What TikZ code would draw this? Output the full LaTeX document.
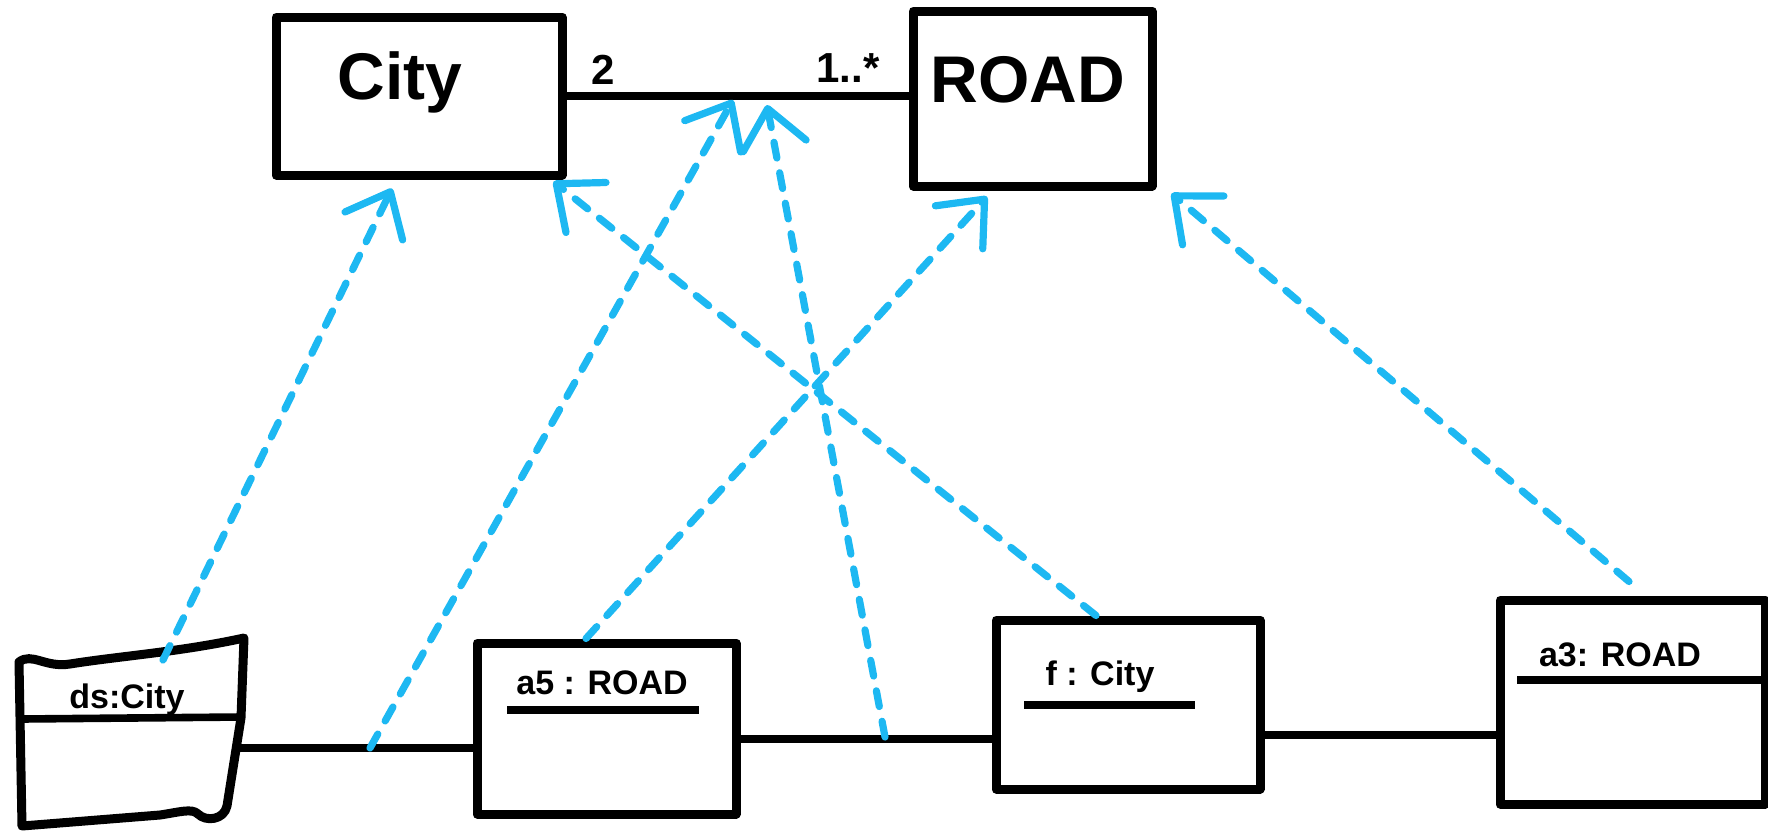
\documentclass[tikz,border=0pt]{standalone}
\usepackage{fontspec}
\setmainfont{Liberation Sans}
\usepackage{tikz}
\usepackage{xcolor}
\usetikzlibrary{arrows.meta,positioning,calc}
\definecolor{linkblue}{HTML}{1DB8F2}

\tikzset{
  classbox/.style={draw,line width=4.5pt,inner sep=0pt},
  assoc/.style={line width=3.8pt},
  bigtxt/.style={font=\fontsize{33}{36}\bfseries\selectfont,inner sep=0pt},
  multtxt/.style={font=\fontsize{21}{24}\bfseries\selectfont,inner sep=0pt},
  objtxt/.style={font=\fontsize{17}{20}\bfseries\selectfont,inner sep=0pt},
  instof/.style={linkblue,line width=3.6pt,line cap=round,dash pattern=on 8pt off 7.5pt,
    -{Straight Barb[length=19pt,width=32pt,round]}}
}

\begin{document}
\begin{tikzpicture}[x=.5pt,y=-.5pt,line join=round]
\useasboundingbox (0,0) rectangle (1768,836);
% classes
\node[classbox,minimum width=143pt,minimum height=79pt] (city) at (419,96) {};
\node[classbox,minimum width=119.5pt,minimum height=87.5pt] (road) at (1032.5,98.5) {};
\node[bigtxt] (citylab) at (400,82) {City};
\node[bigtxt] (roadlab) at (1028,80) {ROAD};
\draw[assoc] (city.east) -- (city.east -| road.west);
\node[multtxt] (multtwo) at (603,70) {2};
\node[multtxt] (multmany) at (848,68) {1..*};
% objects
\draw[line width=4.5pt] (19,662) .. controls (32,652) and (45,668) .. (70,664)
  .. controls (120,656) and (180,652) .. (244,638) -- (241,718) -- (227,806)
  .. controls (224,820) and (206,822) .. (198,814) .. controls (192,808) and (180,812) .. (160,815)
  -- (22,826) -- cycle;
\draw[assoc] (22,719) -- (241,717);
\node[objtxt] (dslab) at (127,702) {\underline{ds:City}};
\node[classbox,minimum width=129.5pt,minimum height=85.5pt] (a5) at (606.5,728.5) {};
\node[objtxt] (a5lab) at (602,683) {a5 : ROAD};
\draw[assoc] (507,710) -- (699,710);
\node[classbox,minimum width=132pt,minimum height=84.5pt] (f) at (1128,704.5) {};
\node[objtxt] (flab) at (1100,677) {f : City};
\draw[assoc] (1024,705) -- (1195,705);
\node[classbox,minimum width=132.5pt,minimum height=102pt] (a3) at (1632.5,702) {};
\node[objtxt] (a3lab) at (1620,655) {a3: ROAD};
\draw[assoc] (1517,680) -- (a3.east |- 0,680);
% links
\coordinate (dsright) at (240,748);
\draw[assoc] (dsright) -- (dsright -| a5.west);
\draw[assoc] ([yshift=-5.25pt]a5.east) coordinate (linktwo) -- (linktwo -| f.west);
\draw[assoc] ([yshift=-15.25pt]f.east) coordinate (linkthree) -- (linkthree -| a3.west);
% instance-of arrows
\coordinate (dstop) at (163,660);
\coordinate (onlinkA) at (370,748);
\coordinate (onlinkB) at (885,737);
\coordinate (onassocA) at (733,100);
\coordinate (onassocB) at (767,105);
\draw[instof] (dstop) -- ([shift={(-13.5pt,-4.5pt)}]city.south);
\draw[instof] (onlinkA) -- (onassocA);
\draw[instof] ([xshift=-10.25pt]a5.north) -- ([shift={(-22.75pt,-3pt)}]road.south);
\draw[instof] (onlinkB) -- (onassocB);
\draw[instof] ([xshift=-16pt]f.north) -- ([shift={(-6.5pt,-1pt)}]city.south east);
\draw[instof] ([shift={(-1.75pt,7pt)}]a3.north) -- ([shift={(7.5pt,-1.5pt)}]road.south east);
\end{tikzpicture}
\end{document}
